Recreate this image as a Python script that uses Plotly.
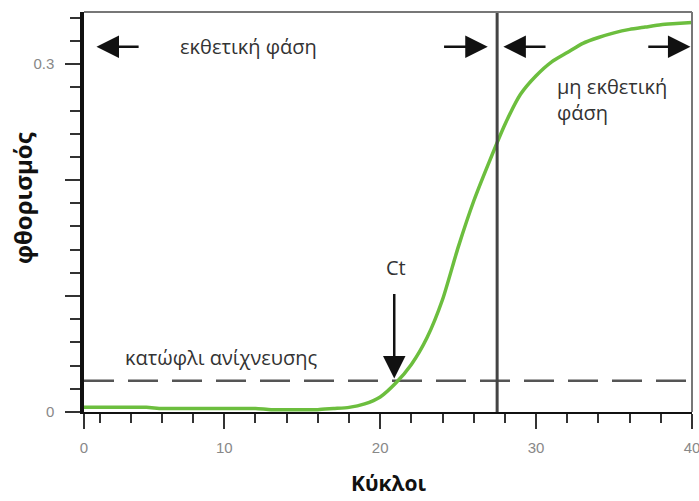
import plotly.graph_objects as go

# ---- data ----
cycles = list(range(1, 41))
fluorescence = [
    0.004, 0.004, 0.004, 0.004, 0.004, 0.003, 0.003, 0.003, 0.003, 0.003,
    0.003, 0.003, 0.002, 0.002, 0.002, 0.002, 0.003, 0.004, 0.007, 0.013,
    0.025, 0.041, 0.064, 0.097, 0.142, 0.182, 0.216, 0.248, 0.274, 0.290,
    0.302, 0.310, 0.318, 0.323, 0.327, 0.330, 0.332, 0.334, 0.335, 0.336,
]
x_tick_vals = [1, 10, 20, 30, 40]
x_tick_text = ["0", "10", "20", "30", "40"]
y_tick_vals = [0, 0.1, 0.2, 0.3]
y_tick_text = ["0", "", "", "0.3"]

threshold = 0.027
phase_boundary = 27.5
ct_cycle = 20.9
arrow_level = 0.315

green = "rgb(108,190,62)"
txt_font = dict(family="Open Sans", size=20, color="#333333")

fig = go.Figure()
fig.add_trace(go.Scatter(
    x=cycles, y=fluorescence, mode="lines",
    line=dict(color=green, width=3.5, shape="spline", smoothing=0.6),
    showlegend=False, hoverinfo="skip",
))

# threshold dashed line
fig.add_shape(type="line", xref="paper", x0=0, x1=1, yref="y",
              y0=threshold, y1=threshold, layer="below",
              line=dict(color="#555555", width=2.5, dash="30px,14px"))
# phase boundary
fig.add_shape(type="line", xref="x", x0=phase_boundary, x1=phase_boundary,
              yref="paper", y0=0, y1=1, layer="above",
              line=dict(color="#444444", width=3))
# top and right frame
fig.add_shape(type="line", xref="paper", yref="paper", x0=0, x1=1, y0=1, y1=1,
              line=dict(color="#777777", width=2))
fig.add_shape(type="line", xref="paper", yref="paper", x0=1, x1=1, y0=0, y1=1,
              line=dict(color="#777777", width=2))

def arrow(x_tip, y_tip, x_tail, y_tail):
    fig.add_annotation(x=x_tip, y=y_tip, ax=x_tail, ay=y_tail,
                       xref="x", yref="y", axref="x", ayref="y",
                       text="", showarrow=True, arrowhead=2, arrowsize=1.8,
                       arrowwidth=2.5, arrowcolor="#111111")

arrow(1.8, arrow_level, 4.6, arrow_level)
arrow(26.9, arrow_level, 24.0, arrow_level)
arrow(27.9, arrow_level, 30.7, arrow_level)
arrow(39.9, arrow_level, 37.1, arrow_level)
arrow(ct_cycle, threshold + 0.002, ct_cycle, 0.103)

fig.add_annotation(x=7.0, y=arrow_level, xref="x", yref="y", text="εκθετική φάση",
                   showarrow=False, xanchor="left", font=txt_font)
fig.add_annotation(x=31.2, y=0.281, xref="x", yref="y", text="μη εκθετική",
                   showarrow=False, xanchor="left", font=txt_font)
fig.add_annotation(x=31.2, y=0.258, xref="x", yref="y", text="φάση",
                   showarrow=False, xanchor="left", font=txt_font)
fig.add_annotation(x=3.5, y=0.047, xref="x", yref="y", text="κατώφλι ανίχνευσης",
                   showarrow=False, xanchor="left", font=txt_font)
fig.add_annotation(x=21.0, y=0.125, xref="x", yref="y", text="Ct",
                   showarrow=False, font=txt_font)

# axis titles
fig.add_annotation(xref="paper", yref="paper", x=-0.102, y=0.535, text="<b>φθορισμός</b>",
                   textangle=-90, showarrow=False, xanchor="center", yanchor="middle",
                   font=dict(family="Open Sans", size=24, color="#111111"))
fig.add_annotation(xref="paper", yref="paper", x=0.50, y=-0.218, text="<b>Κύκλοι</b>",
                   showarrow=False, xanchor="center", yanchor="bottom",
                   font=dict(family="Open Sans", size=21, color="#111111"))

fig.update_xaxes(range=[1, 40], tickmode="array", tickvals=x_tick_vals, ticktext=x_tick_text,
                 showgrid=False, zeroline=False, showline=True, linecolor="#111111", linewidth=2,
                 ticks="outside", ticklen=15, tickwidth=2, tickcolor="#333333",
                 ticklabelstandoff=6, ticklabeloverflow="allow", automargin=False,
                 tickfont=dict(family="Liberation Sans", size=15, color="#888888"),
                 minor=dict(tickmode="linear", tick0=0, dtick=2, ticks="outside",
                            ticklen=9, tickwidth=2, tickcolor="#333333"))
fig.update_yaxes(range=[0, 0.345], tickmode="array", tickvals=y_tick_vals, ticktext=y_tick_text,
                 showgrid=False, zeroline=False, showline=True, linecolor="#111111", linewidth=3.5,
                 ticks="outside", ticklen=15, tickwidth=2, tickcolor="#333333",
                 ticklabelstandoff=8, automargin=False,
                 tickfont=dict(family="Liberation Sans", size=15, color="#888888"),
                 minor=dict(tickmode="linear", tick0=0, dtick=0.02, ticks="outside",
                            ticklen=10, tickwidth=2, tickcolor="#333333"))

fig.update_layout(width=699, height=501, margin=dict(l=84, r=7, t=12, b=89),
                  plot_bgcolor="white", paper_bgcolor="white", showlegend=False)

# remove the default page margin so the figure fills the 699x501 window exactly
fig.write_html(
    "out.html",
    config={"displayModeBar": False},
    post_script="document.body.style.margin='0';"
                "document.documentElement.style.overflow='hidden';"
                "document.body.style.overflow='hidden';",
)
